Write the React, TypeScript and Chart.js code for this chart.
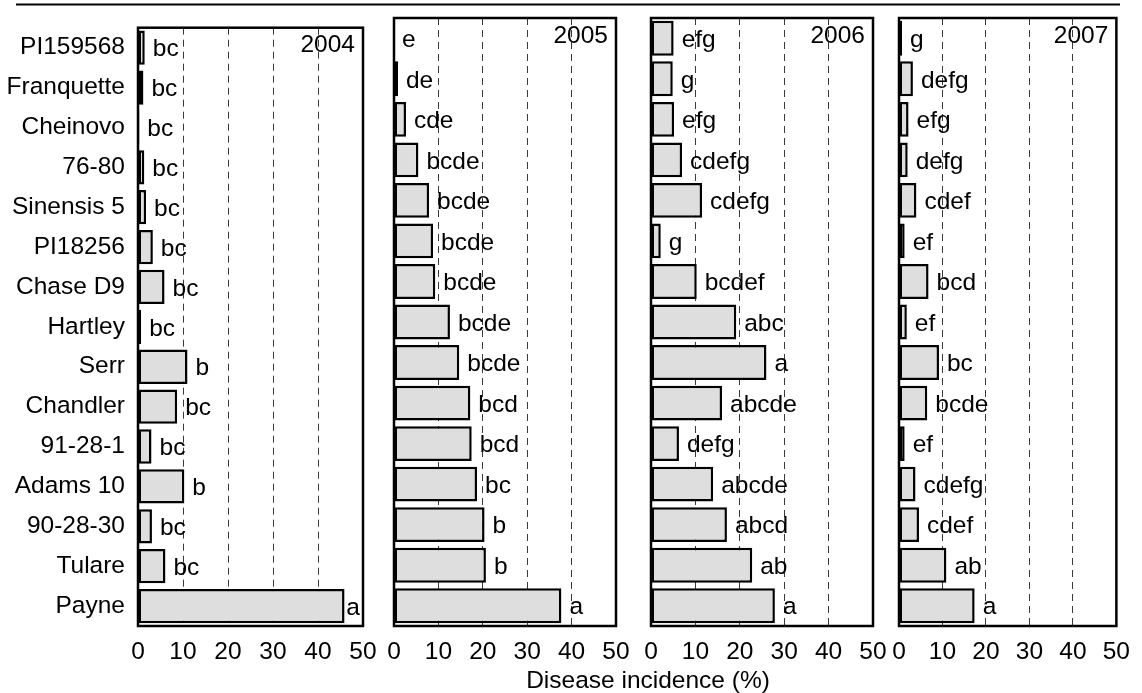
import React, { useEffect, useRef } from "react";
import { Chart, registerables } from "chart.js";

Chart.register(...registerables);

// ---------- data ----------
const cultivars = [
  "PI159568", "Franquette", "Cheinovo", "76-80", "Sinensis 5", "PI18256", "Chase D9",
  "Hartley", "Serr", "Chandler", "91-28-1", "Adams 10", "90-28-30", "Tulare", "Payne",
];
const years = ["2004", "2005", "2006", "2007"];
const incidence2004 = [1.5, 1.2, 0.3, 1.4, 1.8, 3.3, 5.9, 0.7, 11.0, 8.7, 3.0, 10.3, 3.1, 6.1, 45.9];
const incidence2005 = [0, 0.9, 2.7, 5.5, 7.9, 8.8, 9.3, 12.6, 14.7, 17.2, 17.5, 18.7, 20.4, 20.7, 37.7];
const incidence2006 = [5.1, 4.9, 5.2, 7.0, 11.5, 2.2, 10.3, 19.2, 26.0, 16.0, 6.3, 14.0, 17.1, 22.8, 27.9];
const incidence2007 = [0.7, 3.2, 2.2, 2.0, 4.0, 1.3, 6.8, 1.8, 9.2, 6.5, 1.3, 3.8, 4.6, 10.9, 17.4];
const letters2004 = ["bc", "bc", "bc", "bc", "bc", "bc", "bc", "bc", "b", "bc", "bc", "b", "bc", "bc", "a"];
const letters2005 = ["e", "de", "cde", "bcde", "bcde", "bcde", "bcde", "bcde", "bcde", "bcd", "bcd", "bc", "b", "b", "a"];
const letters2006 = ["efg", "g", "efg", "cdefg", "cdefg", "g", "bcdef", "abc", "a", "abcde", "defg", "abcde", "abcd", "ab", "a"];
const letters2007 = ["g", "defg", "efg", "defg", "cdef", "ef", "bcd", "ef", "bc", "bcde", "ef", "cdefg", "cdef", "ab", "a"];
const xTicks = [0, 10, 20, 30, 40, 50];
const axisTitle = "Disease incidence (%)";

const seriesValues = [incidence2004, incidence2005, incidence2006, incidence2007];
const seriesLetters = [letters2004, letters2005, letters2006, letters2007];

// ---------- layout ----------
const W = 1142;
const H = 693;
const PANEL_LEFT = [138, 394, 651, 899];
const PANEL_RIGHT = [363, 616, 873, 1122];
const TOP = 18;
const BOTTOM = 626;
const FONT_FAMILY = "'Liberation Sans', Arial, Helvetica, sans-serif";
const FONT_SIZE = 24.5;
const FONT = `${FONT_SIZE}px ${FONT_FAMILY}`;

function makePlugin(index: number) {
  return {
    id: "panelDecor" + index,
    afterDatasetsDraw(chart: any) {
      const ctx = chart.ctx;
      const area = chart.chartArea;
      const meta = chart.getDatasetMeta(0);
      const letters = seriesLetters[index];
      ctx.save();
      ctx.font = FONT;
      ctx.fillStyle = "#000";
      ctx.textAlign = "left";
      ctx.textBaseline = "middle";
      meta.data.forEach((bar: any, i: number) => {
        const { x, y } = bar.getProps(["x", "y"], true);
        const w = ctx.measureText(letters[i]).width;
        let tx = x + 8;
        if (tx + w > area.right - 3) tx = area.right - 3 - w;
        ctx.fillText(letters[i], tx, y + 2);
      });
      ctx.restore();
    },
    afterDraw(chart: any) {
      const ctx = chart.ctx;
      const area = chart.chartArea;
      ctx.save();
      // frame
      ctx.strokeStyle = "#000";
      ctx.lineWidth = 2.5;
      ctx.strokeRect(area.left, area.top, area.right - area.left, area.bottom - area.top);
      // year label
      const yScale = chart.scales.y;
      ctx.font = FONT;
      ctx.fillStyle = "#000";
      ctx.textAlign = "right";
      ctx.textBaseline = "middle";
      ctx.fillText(years[index], area.right - 8, yScale.getPixelForValue(0) - 2);
      if (index === 0) {
        // top rule across the figure
        ctx.beginPath();
        ctx.lineWidth = 2;
        ctx.moveTo(16, 4.5);
        ctx.lineTo(1120, 4.5);
        ctx.stroke();
        // shared axis title
        ctx.textAlign = "center";
        ctx.textBaseline = "alphabetic";
        ctx.fillText(axisTitle, 648, 688);
      }
      ctx.restore();
    },
  };
}

function Panel({ index }: { index: number }) {
  const ref = useRef<HTMLCanvasElement>(null);
  useEffect(() => {
    if (!ref.current) return;
    const yWidth = index === 0 ? PANEL_LEFT[0] : 0;
    const xHeight = H - BOTTOM;
    const chart = new Chart(ref.current, {
      type: "bar",
      data: {
        labels: cultivars,
        datasets: [
          {
            label: years[index],
            data: seriesValues[index],
            backgroundColor: "#dedede",
            borderColor: "#000",
            borderWidth: 2.5,
            borderSkipped: false,
            categoryPercentage: 1,
            barPercentage: 0.86,
          },
        ],
      },
      options: {
        indexAxis: "y",
        responsive: false,
        animation: false,
        devicePixelRatio: 1,
        layout: {
          padding: {
            left: PANEL_LEFT[index] - yWidth,
            right: W - PANEL_RIGHT[index],
            top: TOP,
            bottom: H - BOTTOM - xHeight,
          },
        },
        plugins: {
          legend: { display: false },
          tooltip: { enabled: false },
          title: { display: false },
        },
        scales: {
          x: {
            type: "linear",
            position: "bottom",
            min: 0,
            max: 50,
            afterBuildTicks: (scale: any) => {
              scale.ticks = xTicks.map((v) => ({ value: v }));
            },
            afterFit: (scale: any) => {
              scale.height = xHeight;
            },
            grid: {
              display: true,
              drawTicks: false,
              lineWidth: 1,
              color: (c: any) =>
                c.tick && c.tick.value > 0 && c.tick.value < 50 ? "#3a3a3a" : "rgba(0,0,0,0)",
            },
            border: { display: false, dash: [7, 5] },
            ticks: {
              color: "#000",
              padding: 12,
              maxRotation: 0,
              font: { family: FONT_FAMILY, size: FONT_SIZE },
            },
          },
          y: {
            type: "category",
            position: "left",
            afterFit: (scale: any) => {
              scale.width = yWidth;
            },
            grid: { display: false, drawTicks: false },
            border: { display: false },
            ticks: {
              display: index === 0,
              color: "#000",
              padding: 13,
              autoSkip: false,
              font: { family: FONT_FAMILY, size: FONT_SIZE },
            },
          },
        },
      },
      plugins: [makePlugin(index)],
    } as any);
    return () => chart.destroy();
  }, [index]);
  return (
    <canvas
      ref={ref}
      width={W}
      height={H}
      style={{ position: "absolute", left: 0, top: 0, width: W, height: H }}
    />
  );
}

export default function App() {
  return (
    <div
      style={{
        position: "absolute",
        left: 0,
        top: 0,
        width: W,
        height: H,
        background: "#fff",
        overflow: "hidden",
      }}
    >
      {years.map((_, i) => (
        <Panel key={i} index={i} />
      ))}
    </div>
  );
}
